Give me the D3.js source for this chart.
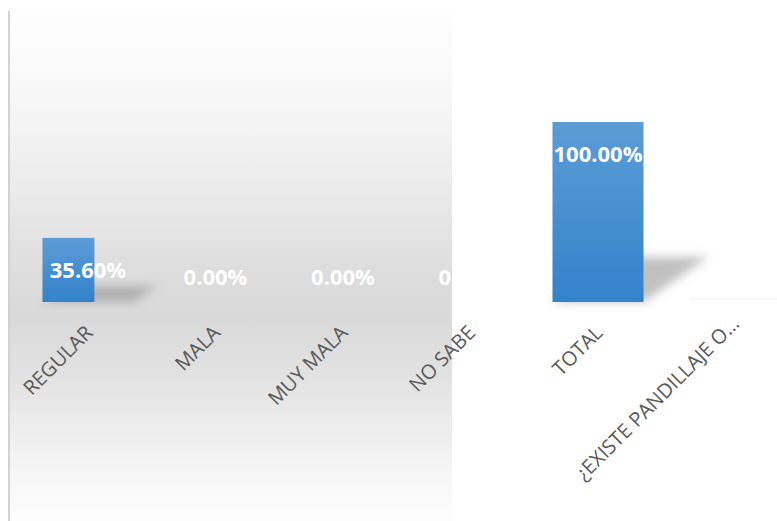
<!DOCTYPE html>
<html>
<head>
<meta charset="utf-8">
<script src="https://cdn.jsdelivr.net/npm/d3@7/dist/d3.min.js"></script>
<style>
  html, body { margin: 0; padding: 0; background: #ffffff; }
  svg { display: block; }
</style>
</head>
<body>
<svg id="chart" width="777" height="521"></svg>
<script>
// Categories and their shares
const categories = ["REGULAR", "MALA", "MUY MALA", "NO SABE", "TOTAL", "¿EXISTE PANDILLAJE O…"];
const values = [0.356, 0, 0, 0, 1.0, null];
const valueLabels = ["35.60%", "0.00%", "0.00%", "0.00%", "100.00%", ""];

const W = 777, H = 521;
const svg = d3.select("#chart");
const defs = svg.append("defs");

// Grey panel gradient (light at top and bottom, darker around the baseline)
const bg = defs.append("linearGradient").attr("id", "panelGrad")
  .attr("x1", 0).attr("y1", 0).attr("x2", 0).attr("y2", 1);
[[0, "#fefefe"], [0.17, "#f7f7f7"], [0.33, "#ececec"], [0.52, "#dcdcdc"], [0.6, "#d9d9d9"],
 [0.72, "#e2e2e2"], [0.84, "#efefef"], [0.93, "#f8f8f8"], [1, "#fdfdfd"]]
  .forEach(([o, c]) => bg.append("stop").attr("offset", o).attr("stop-color", c));

// Column fill
const barGrad = defs.append("linearGradient").attr("id", "barGrad")
  .attr("x1", 0).attr("y1", 0).attr("x2", 0).attr("y2", 1);
barGrad.append("stop").attr("offset", 0).attr("stop-color", "#5c9cd6");
barGrad.append("stop").attr("offset", 1).attr("stop-color", "#3382cb");

// Soft blur for the cast shadows
defs.append("filter").attr("id", "shadowBlur")
  .attr("x", "-50%").attr("y", "-50%").attr("width", "200%").attr("height", "200%")
  .append("feGaussianBlur").attr("stdDeviation", 5);

// Panel
svg.append("rect").attr("x", 8).attr("y", 11).attr("width", 444).attr("height", H - 11)
  .attr("fill", "url(#panelGrad)");
svg.append("rect").attr("x", 8).attr("y", 11).attr("width", 2).attr("height", H - 11)
  .attr("fill", "#d2d2d2");

// Scales
const x = d3.scaleBand().domain(categories).range([24.25, 789.25])
  .paddingInner(0.286).paddingOuter(0.143);
const y = d3.scaleLinear().domain([0, 1]).range([302, 122]);
const base = y(0);

const rows = categories.map((c, i) => ({ c, v: values[i], label: valueLabels[i] }));
const barRows = rows.filter(d => d.v != null && d.v > 0);

// Perspective shadows: each column squashed to a quarter of its height and leaned right
const squash = 0.25, lean = 0.36;
svg.append("g").attr("filter", "url(#shadowBlur)")
  .selectAll("path").data(barRows).join("path")
  .attr("fill", "#8c8c8c").attr("fill-opacity", 0.55)
  .attr("d", d => {
    const x0 = x(d.c), x1 = x0 + x.bandwidth();
    const h = base - y(d.v);
    const ty = base - h * squash, dx = h * lean;
    return `M${x0},${base}L${x1},${base}L${x1 + dx},${ty}L${x0 + dx},${ty}Z`;
  });

// Faint floor line on the right
svg.append("line").attr("x1", 690).attr("x2", 777).attr("y1", 299).attr("y2", 299)
  .attr("stroke", "#f5f5f5").attr("stroke-width", 1.5);

// The first column is drawn cut short at its right edge
defs.append("clipPath").attr("id", "firstCut").append("rect")
  .attr("x", 0).attr("y", 0)
  .attr("width", x(categories[0]) + x.bandwidth() * 0.57).attr("height", H);

svg.append("g").selectAll("rect").data(barRows).join("rect")
  .attr("x", d => x(d.c))
  .attr("y", d => y(d.v))
  .attr("width", x.bandwidth())
  .attr("height", d => base - y(d.v))
  .attr("fill", "url(#barGrad)")
  .attr("clip-path", d => d.c === categories[0] ? "url(#firstCut)" : null);

// Value labels, white, inside the column top (or just above the baseline for empty columns)
svg.append("g").selectAll("text").data(rows.filter(d => d.label)).join("text")
  .attr("x", d => x(d.c) + x.bandwidth() / 2)
  .attr("y", d => Math.min(y(d.v) + 40, base - 17))
  .attr("text-anchor", "middle")
  .attr("font-family", "'Open Sans', sans-serif")
  .attr("font-weight", 700)
  .attr("font-size", 22)
  .attr("fill", "#ffffff")
  .text(d => d.label);

// Category axis with slanted labels
const axis = svg.append("g").attr("transform", `translate(0,${base})`)
  .call(d3.axisBottom(x).tickSize(0).tickPadding(0));
axis.select(".domain").remove();
axis.selectAll("text")
  .attr("font-family", "'Open Sans', sans-serif")
  .attr("font-size", 20)
  .attr("fill", "#595959")
  .attr("text-anchor", "end")
  .attr("dy", 0)
  .attr("y", 0)
  .attr("transform", (d, i) => i === categories.length - 1
    ? "translate(15,23) rotate(-45)"   // truncated label sits a little further out
    : "translate(6,32) rotate(-45)");
</script>
</body>
</html>
